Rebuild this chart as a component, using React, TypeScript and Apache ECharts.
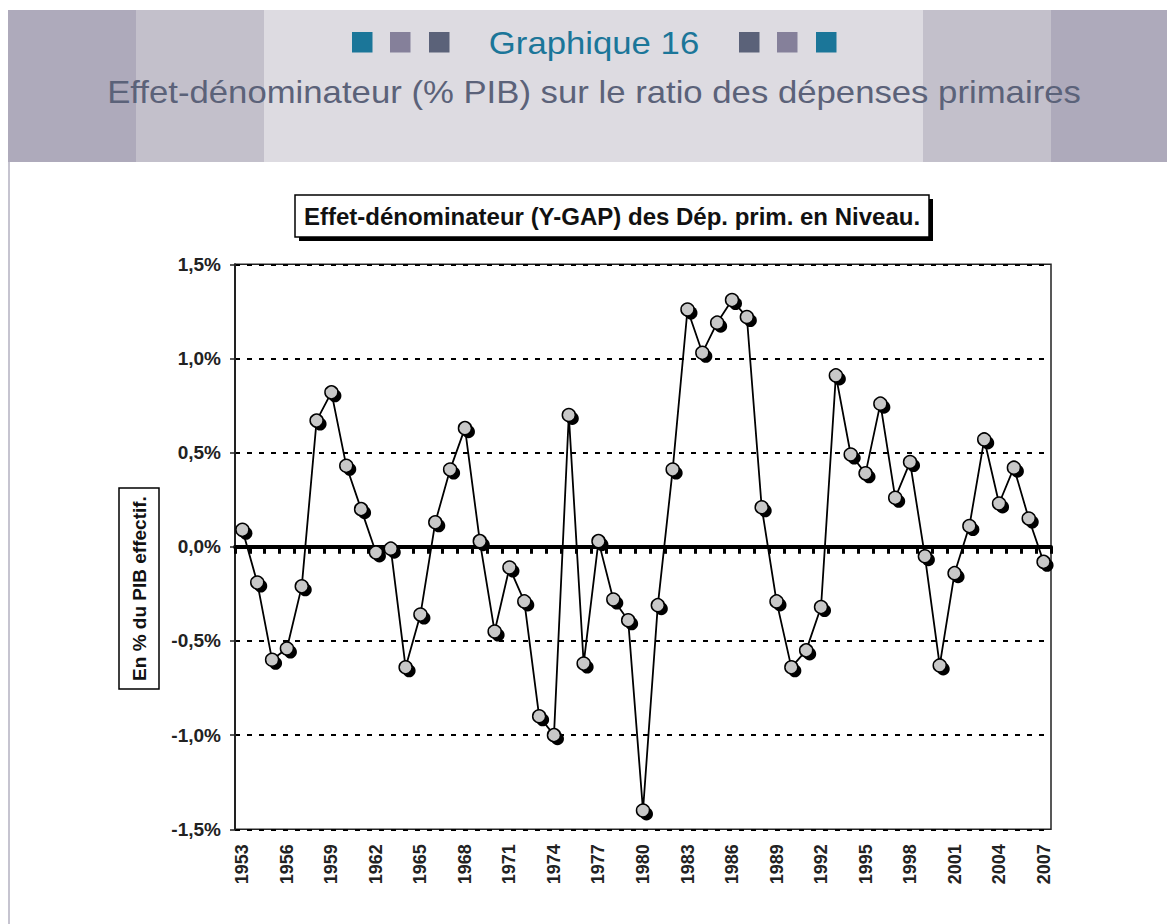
import React, { useEffect, useRef } from "react";
import * as echarts from "echarts";

const years: string[] = [
  "1953","1954","1955","1956","1957","1958","1959","1960","1961","1962",
  "1963","1964","1965","1966","1967","1968","1969","1970","1971","1972",
  "1973","1974","1975","1976","1977","1978","1979","1980","1981","1982",
  "1983","1984","1985","1986","1987","1988","1989","1990","1991","1992",
  "1993","1994","1995","1996","1997","1998","1999","2000","2001","2002",
  "2003","2004","2005","2006","2007",
];

const effetDenominateur: number[] = [
  0.09, -0.19, -0.60, -0.54, -0.21, 0.67, 0.82, 0.43, 0.20, -0.03,
  -0.01, -0.64, -0.36, 0.13, 0.41, 0.63, 0.03, -0.45, -0.11, -0.29,
  -0.90, -1.00, 0.70, -0.62, 0.03, -0.28, -0.39, -1.40, -0.31, 0.41,
  1.26, 1.03, 1.19, 1.31, 1.22, 0.21, -0.29, -0.64, -0.55, -0.32,
  0.91, 0.49, 0.39, 0.76, 0.26, 0.45, -0.05, -0.63, -0.14, 0.11,
  0.57, 0.23, 0.42, 0.15, -0.08,
];

const yMin = -1.5;
const yMax = 1.5;
const yStep = 0.5;

const headerTitle = "Graphique 16";
const headerSubtitle = "Effet-dénominateur (% PIB) sur le ratio des dépenses primaires";
const chartTitle = "Effet-dénominateur (Y-GAP) des Dép. prim. en Niveau.";
const yAxisName = "En % du PIB effectif.";

const fmtPct = (v: number) => v.toFixed(1).replace(".", ",") + "%";

export default function App() {
  const ref = useRef<HTMLDivElement>(null);

  useEffect(() => {
    if (!ref.current) return;
    const chart = echarts.init(ref.current, null, { renderer: "svg" });

    const dark = "#aeaabb";
    const mid = "#c3c0cb";
    const light = "#dddbe1";
    const teal = "#1b7699";
    const greyP = "#85809a";
    const slate = "#5b6279";

    const sq = (x: number, color: string) => ({
      type: "rect",
      shape: { x, y: 32, width: 20.5, height: 20.5 },
      style: { fill: color },
      silent: true,
    });

    const option: any = {
      animation: false,
      backgroundColor: "#ffffff",
      graphic: [
        { type: "rect", shape: { x: 8, y: 10, width: 1159, height: 152 }, style: { fill: dark } },
        { type: "rect", shape: { x: 136, y: 10, width: 128, height: 152 }, style: { fill: mid } },
        { type: "rect", shape: { x: 923, y: 10, width: 128, height: 152 }, style: { fill: mid } },
        { type: "rect", shape: { x: 264, y: 10, width: 659, height: 152 }, style: { fill: light } },
        { type: "line", shape: { x1: 9, y1: 162, x2: 9, y2: 924 }, style: { stroke: "#b3b0c0", lineWidth: 1.5 } },
        sq(352, teal),
        sq(390, greyP),
        sq(429, slate),
        sq(739, slate),
        sq(777, greyP),
        sq(816, teal),
        {
          type: "text",
          x: 594,
          y: 43,
          scaleX: 1.12,
          style: {
            text: headerTitle,
            fill: teal,
            font: "31px 'Liberation Sans', Arial, sans-serif",
            align: "center",
            verticalAlign: "middle",
          },
        },
        {
          type: "text",
          x: 594,
          y: 92,
          scaleX: 1.12,
          style: {
            text: headerSubtitle,
            fill: slate,
            font: "31px 'Liberation Sans', Arial, sans-serif",
            align: "center",
            verticalAlign: "middle",
          },
        },
        // chart title box with shadow
        { type: "rect", shape: { x: 299, y: 199, width: 634, height: 42 }, style: { fill: "#000" } },
        { type: "rect", shape: { x: 295, y: 195, width: 634, height: 42 }, style: { fill: "#fff", stroke: "#000", lineWidth: 1.5 } },
        {
          type: "text",
          x: 612,
          y: 216.5,
          style: {
            text: chartTitle,
            fill: "#111",
            font: "bold 24px 'Liberation Sans', Arial, sans-serif",
            align: "center",
            verticalAlign: "middle",
          },
        },
        // y axis name box
        { type: "rect", shape: { x: 119, y: 488, width: 40, height: 201 }, style: { fill: "#fff", stroke: "#000", lineWidth: 1.5 } },
        {
          type: "text",
          x: 139,
          y: 588.5,
          rotation: Math.PI / 2,
          style: {
            text: yAxisName,
            fill: "#111",
            font: "bold 19px 'Liberation Sans', Arial, sans-serif",
            align: "center",
            verticalAlign: "middle",
          },
        },
      ],
      grid: {
        left: 235,
        right: 116,
        top: 264.3,
        bottom: 94.7,
        show: true,
        borderColor: "#222",
        borderWidth: 1.5,
        backgroundColor: "transparent",
      },
      xAxis: [
        {
          type: "category",
          data: years,
          boundaryGap: true,
          position: "bottom",
          axisLine: { show: false, onZero: false },
          axisTick: { show: false },
          axisLabel: {
            interval: 2,
            rotate: 90,
            margin: 15,
            color: "#222",
            fontWeight: "bold",
            fontSize: 18,
            fontFamily: "'Liberation Sans', Arial, sans-serif",
          },
          splitLine: { show: false },
        },
        {
          type: "category",
          data: years,
          boundaryGap: true,
          position: "bottom",
          axisLine: { show: true, onZero: true, lineStyle: { color: "#000", width: 4 } },
          axisTick: { show: true, interval: 0, length: 7, lineStyle: { color: "#000", width: 3 } },
          axisLabel: { show: false },
          splitLine: { show: false },
        },
      ],
      yAxis: {
        type: "value",
        min: yMin,
        max: yMax,
        interval: yStep,
        axisLine: { show: true, onZero: false, lineStyle: { color: "#222", width: 2 } },
        axisTick: { show: true, length: 5, lineStyle: { color: "#222", width: 1.5 } },
        axisLabel: {
          formatter: fmtPct,
          margin: 14,
          color: "#222",
          fontWeight: "bold",
          fontSize: 19,
          fontFamily: "'Liberation Sans', Arial, sans-serif",
        },
        splitLine: { show: true, lineStyle: { color: "#000", width: 2, type: [5, 7] } },
      },
      series: [
        {
          type: "line",
          xAxisIndex: 0,
          data: effetDenominateur,
          symbol: "circle",
          symbolSize: 13,
          symbolOffset: [3.5, 3.5],
          showAllSymbol: true,
          lineStyle: { color: "#000", width: 1.8 },
          itemStyle: { color: "#000", borderColor: "#000", borderWidth: 0 },
          z: 3,
          silent: true,
        },
        {
          type: "line",
          xAxisIndex: 0,
          data: effetDenominateur,
          symbol: "circle",
          symbolSize: 13,
          showAllSymbol: true,
          lineStyle: { opacity: 0, width: 0 },
          itemStyle: { color: "#c8c8c8", borderColor: "#000", borderWidth: 1.5 },
          z: 4,
          silent: true,
        },
      ],
    };

    chart.setOption(option);
    return () => chart.dispose();
  }, []);

  return (
    <div
      ref={ref}
      style={{ position: "absolute", left: 0, top: 0, width: 1167, height: 924, background: "#fff" }}
    />
  );
}
